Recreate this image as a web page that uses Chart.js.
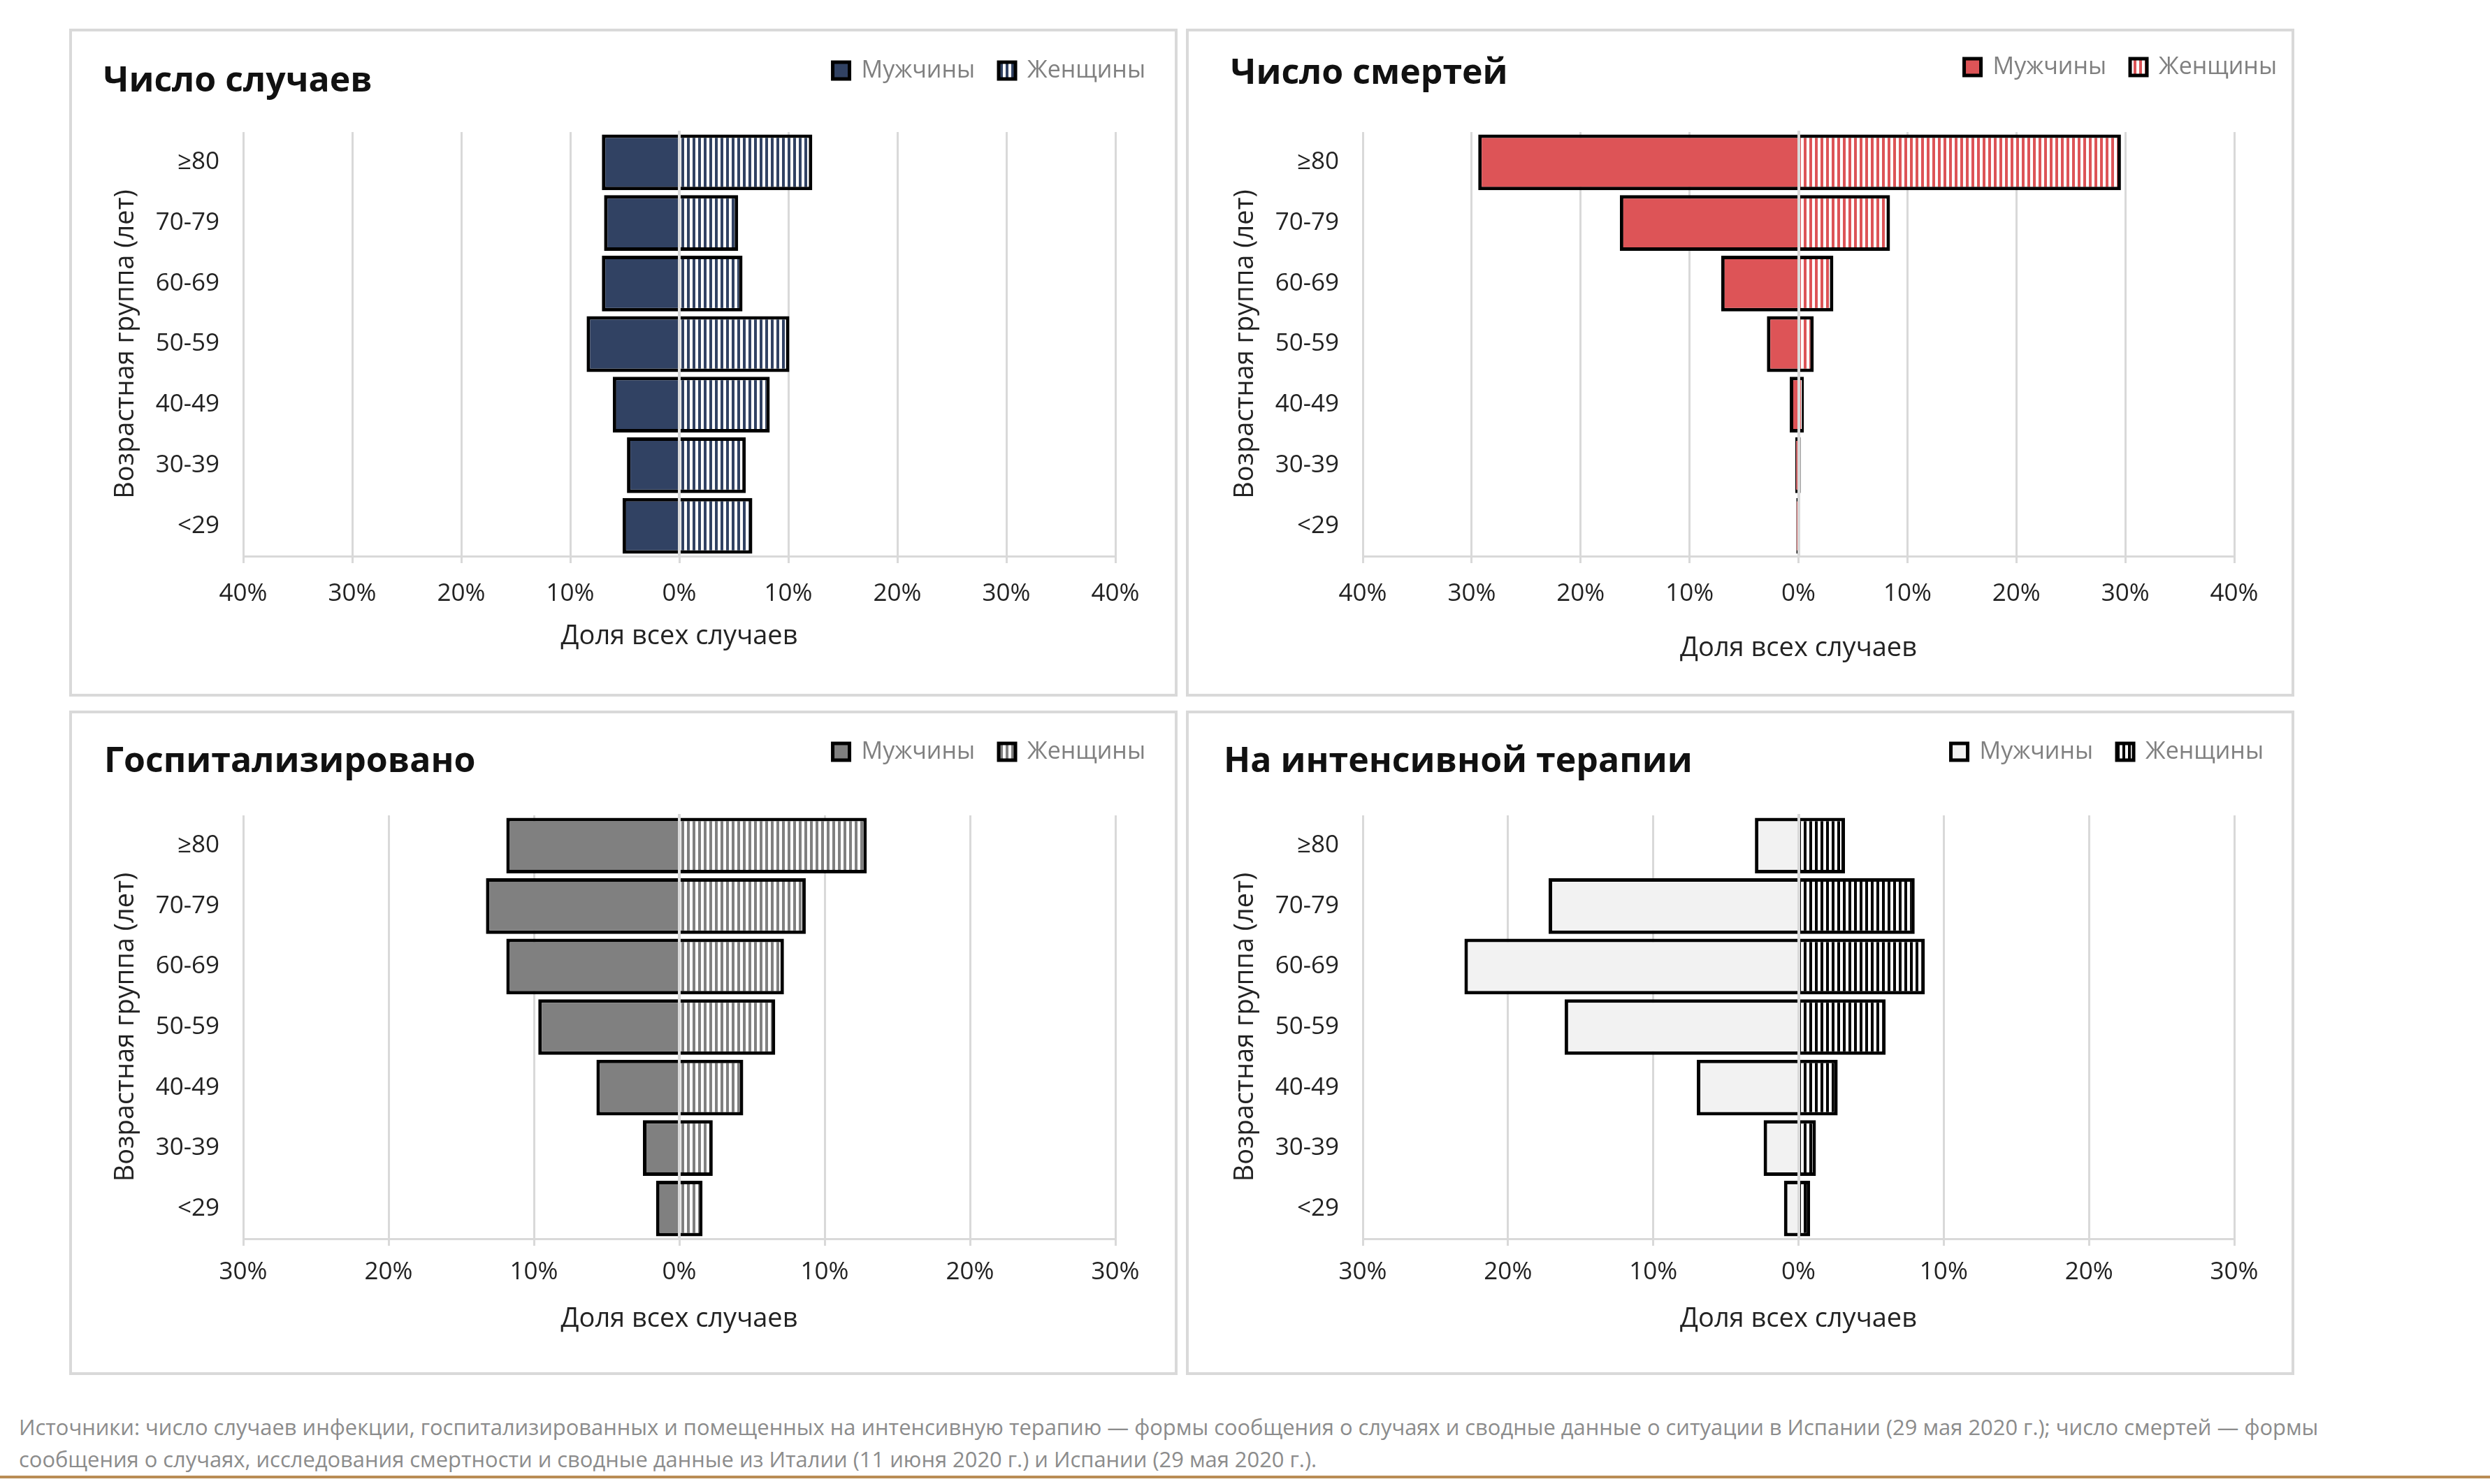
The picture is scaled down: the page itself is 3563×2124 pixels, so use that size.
<!DOCTYPE html>
<html lang="ru">
<head>
<meta charset="utf-8">
<title>Возрастная группа</title>
<script src="https://cdn.jsdelivr.net/npm/chart.js@4.4.1/dist/chart.umd.min.js"></script>
<style>
  html, body { margin: 0; padding: 0; background: #fff; }
  body { width: 3563px; height: 2124px; position: relative; overflow: hidden; font-family: "Open Sans", sans-serif; }
  .panel { position: absolute; border: 4px solid #d9d9d9; box-sizing: border-box; }
  .panel canvas { display: block; }
  #note { position: absolute; left: 27px; top: 2019px; color: #8c8c8c; line-height: 46px; white-space: nowrap; font-size: 31px; }
  #rule { position: absolute; left: 0; top: 2112px; width: 3563px; height: 4px; background: #b98d55; }
</style>
</head>
<body>
<div class="panel" id="p0" style="left:99px;top:41px;width:1586px;height:956px"><canvas id="c0"></canvas></div>
<div class="panel" id="p1" style="left:1697px;top:41px;width:1586px;height:956px"><canvas id="c1"></canvas></div>
<div class="panel" id="p2" style="left:99px;top:1017px;width:1586px;height:951px"><canvas id="c2"></canvas></div>
<div class="panel" id="p3" style="left:1697px;top:1017px;width:1586px;height:951px"><canvas id="c3"></canvas></div>
<div id="note"><span id="l1">Источники: число случаев инфекции, госпитализированных и помещенных на интенсивную терапию — формы сообщения о случаях и сводные данные о ситуации в Испании (29 мая 2020 г.); число смертей — формы</span><br>сообщения о случаях, исследования смертности и сводные данные из Италии (11 июня 2020 г.) и Испании (29 мая 2020 г.).</div>
<div id="rule"></div>
<script>
// age groups, top to bottom
const ageGroups = ["≥80", "70-79", "60-69", "50-59", "40-49", "30-39", "<29"];
const seriesNames = ["Мужчины", "Женщины"];

// shares of all cases, %
const casesMen = [7.1, 6.9, 7.1, 8.5, 6.1, 4.8, 5.2];
const casesWomen = [12.2, 5.4, 5.8, 10.1, 8.3, 6.1, 6.7];
const deathsMen = [29.4, 16.4, 7.1, 2.9, 0.8, 0.3, 0.2];
const deathsWomen = [29.6, 8.4, 3.2, 1.4, 0.5, 0.2, 0.1];
const hospMen = [11.9, 13.3, 11.9, 9.7, 5.7, 2.5, 1.6];
const hospWomen = [12.9, 8.7, 7.2, 6.6, 4.4, 2.3, 1.6];
const icuMen = [3.0, 17.2, 23.0, 16.1, 7.0, 2.4, 1.0];
const icuWomen = [3.2, 8.0, 8.7, 6.0, 2.7, 1.2, 0.8];

const panelTitles = ["Число случаев", "Число смертей", "Госпитализировано", "На интенсивной терапии"];
const axisLimits = [40, 40, 30, 30];
const xTitle = "Доля всех случаев";
const yTitle = "Возрастная группа (лет)";

const menData = [casesMen, deathsMen, hospMen, icuMen];
const womenData = [casesWomen, deathsWomen, hospWomen, icuWomen];

// styles
const menFill = ["#314263", "#dd5457", "#808080", "#f2f2f2"];
const stripeColor = ["#314263", "#dd5457", "#808080", "#000000"];
const grid = "#d9d9d9";
const ink = "#222222";

// layout per panel (canvas pixels)
const layouts = [
  { left: 45, titleY: 72, legendY: 56, plotLeft: 245, plotRight: 1493, plotTop: 144, plotBottom: 751, labelGap: 54, xTitleGap: 115, legendGap: 42, yTitleX: 77 },
  { left: 60, titleY: 61, legendY: 51, plotLeft: 249, plotRight: 1496, plotTop: 144, plotBottom: 751, labelGap: 54, xTitleGap: 132, legendGap: 21, yTitleX: 81 },
  { left: 46, titleY: 70, legendY: 55, plotLeft: 245, plotRight: 1493, plotTop: 146, plotBottom: 752, labelGap: 48, xTitleGap: 115, legendGap: 42, yTitleX: 77 },
  { left: 50, titleY: 70, legendY: 55, plotLeft: 249, plotRight: 1496, plotTop: 146, plotBottom: 752, labelGap: 48, xTitleGap: 115, legendGap: 40, yTitleX: 81 }
];

Chart.defaults.font.family = "'Open Sans', sans-serif";

function stripes(ctx, color) {
  const c = document.createElement("canvas");
  c.width = 8;
  c.height = 8;
  const g = c.getContext("2d");
  g.fillStyle = "#ffffff";
  g.fillRect(0, 0, 8, 8);
  g.fillStyle = color;
  g.fillRect(0, 0, 4, 8);
  return ctx.createPattern(c, "repeat");
}

function buildPanel(i) {
  const L = layouts[i];
  const panel = document.getElementById("p" + i);
  const canvas = document.getElementById("c" + i);
  const W = panel.clientWidth;
  const H = panel.clientHeight;
  canvas.width = W;
  canvas.height = H;
  canvas.style.width = W + "px";
  canvas.style.height = H + "px";
  const ctx = canvas.getContext("2d");

  const titleSize = 50, legendSize = 34, tickSize = 35, axisTitleSize = 38, legendPad = 34;
  const titleLH = titleSize * 1.2;
  const tickLH = tickSize * 1.2;
  const axisLH = axisTitleSize * 1.2;
  const titleTop = L.titleY - titleLH / 2;
  const legendTop = L.legendY - legendPad - legendSize / 2;
  const legendBottom = legendTop + legendSize + legendPad + 10;
  const tickLen = 10;
  const tickPad = L.labelGap - tickLen - tickLH / 2;
  const xTitlePad = L.xTitleGap - tickLen - tickLH - 2 * tickPad - axisLH / 2;
  const xAxisH = tickLen + tickLH + 2 * tickPad + axisLH + xTitlePad;
  const padRight = L.legendGap - legendPad;
  const lim = axisLimits[i];

  new Chart(ctx, {
    type: "bar",
    data: {
      labels: ageGroups,
      datasets: [
        {
          label: seriesNames[0],
          data: menData[i].map(v => -v),
          backgroundColor: menFill[i],
          borderColor: "#000000",
          borderWidth: 5
        },
        {
          label: seriesNames[1],
          data: womenData[i],
          backgroundColor: stripes(ctx, stripeColor[i]),
          borderColor: "#000000",
          borderWidth: 5
        }
      ]
    },
    options: {
      indexAxis: "y",
      responsive: false,
      animation: false,
      devicePixelRatio: 1,
      barPercentage: 0.92,
      categoryPercentage: 1,
      layout: {
        padding: { left: L.left, right: padRight, top: 0, bottom: H - L.plotBottom - xAxisH }
      },
      scales: {
        x: {
          stacked: true,
          min: -lim,
          max: lim,
          grid: { color: grid, lineWidth: 3, tickLength: tickLen, drawTicks: true },
          border: { color: grid, width: 3 },
          ticks: {
            stepSize: 10,
            maxRotation: 0,
            padding: tickPad,
            color: ink,
            font: { size: tickSize },
            callback: v => Math.abs(v) + "%"
          },
          title: { display: true, text: xTitle, color: ink, font: { size: axisTitleSize }, padding: { top: xTitlePad, bottom: 0 } }
        },
        y: {
          stacked: true,
          grid: { display: false, drawTicks: false },
          border: { display: false },
          ticks: { padding: 34, color: ink, font: { size: tickSize } },
          title: { display: true, text: yTitle, color: ink, font: { size: axisTitleSize }, padding: { top: L.yTitleX - L.left - axisLH / 2, bottom: 0 } },
          afterFit: s => { s.width = L.plotLeft - L.left; }
        },
        yZero: {
          type: "category",
          axis: "y",
          position: { x: 0 },
          grid: { display: false, drawTicks: false },
          ticks: { display: false },
          border: { display: true, color: grid, width: 4, z: 1 }
        },
        yRight: {
          type: "category",
          axis: "y",
          position: "right",
          grid: { display: false, drawTicks: false },
          ticks: { display: false },
          border: { display: false },
          afterFit: s => { s.width = W - padRight - L.plotRight; }
        }
      },
      plugins: {
        tooltip: { enabled: false },
        title: {
          display: true,
          text: panelTitles[i],
          align: "start",
          color: "#111111",
          font: { size: titleSize, weight: "bold" },
          padding: { top: titleTop, bottom: legendTop - titleTop - titleLH }
        },
        legend: {
          position: "top",
          align: "end",
          labels: {
            color: "#808080",
            boxWidth: 24,
            boxHeight: 24,
            padding: legendPad,
            font: { size: legendSize }
          }
        },
        subtitle: {
          display: true,
          text: "",
          weight: 10,
          font: { size: 10 },
          padding: { top: L.plotTop - legendBottom - 12, bottom: 0 }
        }
      }
    }
  });
}

for (let i = 0; i < 4; i++) buildPanel(i);

// fit the source note to its printed width
const l1 = document.getElementById("l1");
const note = document.getElementById("note");
const w = l1.getBoundingClientRect().width;
note.style.fontSize = (31 * 3291 / w).toFixed(2) + "px";
</script>
</body>
</html>
